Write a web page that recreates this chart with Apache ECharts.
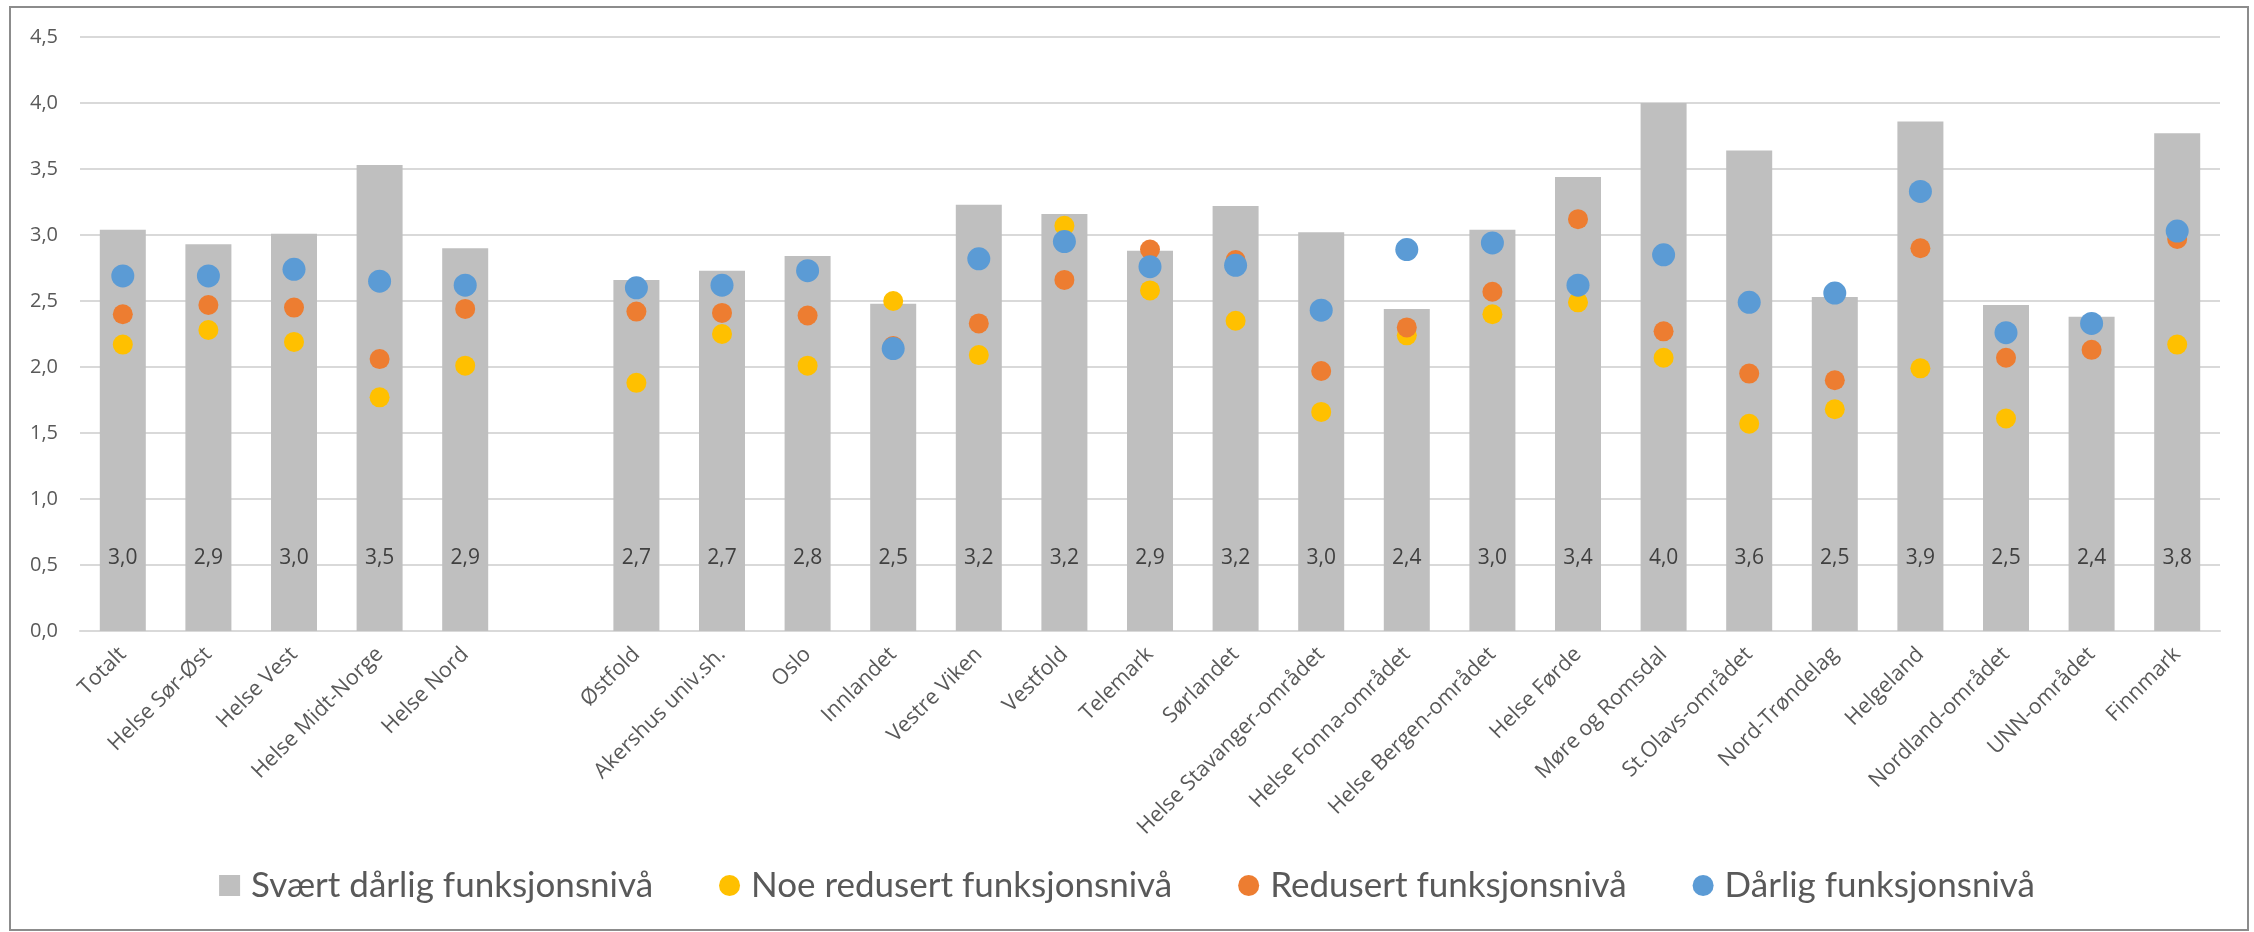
<!DOCTYPE html>
<html>
<head>
<meta charset="utf-8">
<script src="https://cdn.jsdelivr.net/npm/echarts@6/dist/echarts.min.js"></script>
<style>
html,body{margin:0;padding:0;background:#fff;}
#chart{width:2254px;height:932px;}
</style>
</head>
<body>
<div id="chart"></div>
<script>
const categories = ['Totalt','Helse Sør-Øst','Helse Vest','Helse Midt-Norge','Helse Nord','',
  'Østfold','Akershus univ.sh.','Oslo','Innlandet','Vestre Viken','Vestfold','Telemark','Sørlandet',
  'Helse Stavanger-området','Helse Fonna-området','Helse Bergen-området','Helse Førde','Møre og Romsdal',
  'St.Olavs-området','Nord-Trøndelag','Helgeland','Nordland-området','UNN-området','Finnmark'];

const svaertDarlig = [3.04,2.93,3.01,3.53,2.90,null,
  2.66,2.73,2.84,2.48,3.23,3.16,2.88,3.22,3.02,2.44,3.04,3.44,4.00,3.64,2.53,3.86,2.47,2.38,3.77];
const noeRedusert = [2.17,2.28,2.19,1.77,2.01,null,
  1.88,2.25,2.01,2.50,2.09,3.07,2.58,2.35,1.66,2.24,2.40,2.49,2.07,1.57,1.68,1.99,1.61,null,2.17];
const redusert = [2.40,2.47,2.45,2.06,2.44,null,
  2.42,2.41,2.39,2.16,2.33,2.66,2.89,2.81,1.97,2.30,2.57,3.12,2.27,1.95,1.90,2.90,2.07,2.13,2.97];
const darlig = [2.69,2.69,2.74,2.65,2.62,null,
  2.60,2.62,2.73,2.14,2.82,2.95,2.76,2.77,2.43,2.89,2.94,2.62,2.85,2.49,2.56,3.33,2.26,2.33,3.03];

const seriesNames = ['Svært dårlig funksjonsnivå','Noe redusert funksjonsnivå','Redusert funksjonsnivå','Dårlig funksjonsnivå'];
const yTickMin = 0, yTickMax = 4.5, yTickStep = 0.5;

const fmt = v => v.toFixed(1).replace('.', ',');
const AXFONT = '"Open Sans", sans-serif';
const LEGFONT = 'Lato, "Open Sans", sans-serif';
const TXT = '#595959';

const chart = echarts.init(document.getElementById('chart'), null, {renderer:'canvas'});
chart.setOption({
  animation:false,
  backgroundColor:'#fff',
  textStyle:{fontFamily:AXFONT},
  graphic:[{type:'rect', shape:{x:10,y:7,width:2238,height:923}, style:{fill:'none',stroke:'#8c8c8c',lineWidth:2}, silent:true, z:-1}],
  grid:{left:80,right:34,top:37,bottom:301,containLabel:false},
  legend:{
    bottom:24, left:'center',
    itemWidth:21,itemHeight:21,itemGap:66,
    textStyle:{fontSize:35,color:TXT,fontFamily:LEGFONT,padding:[0,0,0,6]},
    data:[{name:seriesNames[0],icon:'rect'},{name:seriesNames[1],icon:'circle'},{name:seriesNames[2],icon:'circle'},{name:seriesNames[3],icon:'circle'}]
  },
  xAxis:{
    type:'category', data:categories,
    axisLine:{lineStyle:{color:'#D9D9D9',width:2}},
    axisTick:{show:false},
    axisLabel:{rotate:45,interval:0,fontSize:21.5,color:TXT,margin:20,fontFamily:AXFONT}
  },
  yAxis:{
    type:'value', min:yTickMin, max:yTickMax, interval:yTickStep,
    axisLine:{show:false}, axisTick:{show:false},
    splitLine:{lineStyle:{color:'#D9D9D9',width:2}},
    axisLabel:{formatter:v=>fmt(v),fontSize:20,color:TXT,margin:22,fontFamily:AXFONT}
  },
  series:[
    {name:seriesNames[0],type:'bar',data:svaertDarlig,barWidth:46,itemStyle:{color:'#BFBFBF'},
     label:{show:true,position:'insideBottom',distance:62,fontSize:21,color:'#404040',fontFamily:AXFONT,formatter:p=>fmt(p.value)}},
    {name:seriesNames[1],type:'scatter',data:noeRedusert,symbolSize:20,itemStyle:{color:'#FFC000',opacity:1}},
    {name:seriesNames[2],type:'scatter',data:redusert,symbolSize:20,itemStyle:{color:'#ED7D31',opacity:1}},
    {name:seriesNames[3],type:'scatter',data:darlig,symbolSize:23,itemStyle:{color:'#5B9BD5',opacity:1}}
  ]
});
</script>
</body>
</html>
